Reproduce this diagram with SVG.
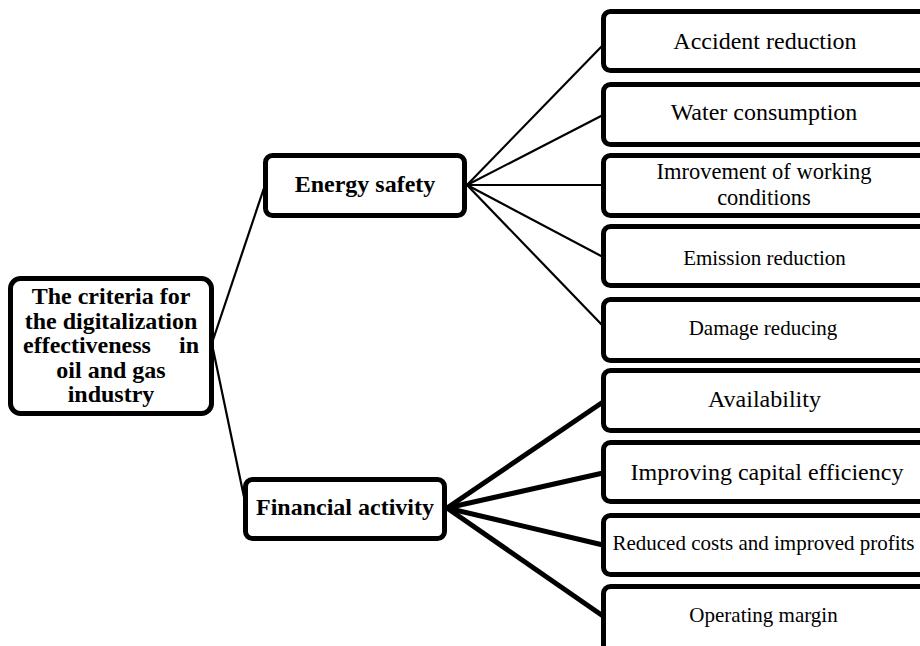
<svg xmlns="http://www.w3.org/2000/svg" width="920" height="646" viewBox="0 0 920 646">
<style>
.box{fill:#fff;stroke:#000;stroke-width:5}
.bt{font-family:"Liberation Serif","Times New Roman",serif;font-weight:bold;font-size:24px;fill:#000;text-anchor:middle}
.t{font-family:"Liberation Serif","Times New Roman",serif;font-size:24px;fill:#000;text-anchor:middle}
.s{font-size:21px}
.m{font-size:22.5px}
.thin{stroke:#000;stroke-width:2.2;fill:none}
.thick{stroke:#000;stroke-width:5;fill:none}
</style>
<rect width="920" height="646" fill="#fff"/>
<g id="connectors">
<line class="thin" x1="213" y1="340" x2="264" y2="188"/>
<line class="thin" x1="213" y1="349" x2="244" y2="497"/>
<line class="thin" x1="467" y1="185" x2="603" y2="45"/>
<line class="thin" x1="467" y1="185" x2="603" y2="115"/>
<line class="thin" x1="467" y1="185" x2="603" y2="185"/>
<line class="thin" x1="467" y1="185" x2="603" y2="257"/>
<line class="thin" x1="467" y1="185" x2="603" y2="326"/>
<line class="thick" x1="447" y1="508" x2="603" y2="402"/>
<line class="thick" x1="447" y1="508" x2="603" y2="473"/>
<line class="thick" x1="447" y1="508" x2="603" y2="545"/>
<line class="thick" x1="447" y1="508" x2="603" y2="616"/>
</g>
<g id="root">
<rect class="box" x="10.5" y="278.5" width="201" height="135" rx="10"/>
<text class="bt" x="111" y="304">The criteria for</text>
<text class="bt" x="111" y="328.5">the digitalization</text>
<text class="bt" y="353"><tspan x="23" text-anchor="start">effectiveness</tspan><tspan x="199" text-anchor="end">in</tspan></text>
<text class="bt" x="111" y="377.5">oil and gas</text>
<text class="bt" x="111" y="402">industry</text>
</g>
<g id="energy">
<rect class="box" x="265.5" y="155.5" width="199" height="60" rx="7"/>
<text class="bt" x="365" y="192">Energy safety</text>
</g>
<g id="financial">
<rect class="box" x="245.5" y="479.5" width="199" height="59" rx="7"/>
<text class="bt" x="345" y="515">Financial activity</text>
</g>
<g id="accident">
<rect class="box" x="603.5" y="11.5" width="340" height="59" rx="7"/>
<text class="t" x="765" y="49">Accident reduction</text>
</g>
<g id="water">
<rect class="box" x="603.5" y="84.5" width="340" height="60" rx="7"/>
<text class="t" x="764" y="120">Water consumption</text>
</g>
<g id="working">
<rect class="box" x="603.5" y="155.5" width="340" height="60" rx="7"/>
<text class="t m"><tspan x="764" y="179">Imrovement of working</tspan><tspan x="764" y="204.5">conditions</tspan></text>
</g>
<g id="emission">
<rect class="box" x="603.5" y="226.5" width="340" height="59" rx="7"/>
<text class="t s" x="764.5" y="265">Emission reduction</text>
</g>
<g id="damage">
<rect class="box" x="603.5" y="299.5" width="340" height="61" rx="7"/>
<text class="t s" x="763" y="335">Damage reducing</text>
</g>
<g id="availability">
<rect class="box" x="603.5" y="370.5" width="340" height="60" rx="7"/>
<text class="t" x="764.5" y="407">Availability</text>
</g>
<g id="capital">
<rect class="box" x="603.5" y="442.5" width="340" height="59" rx="7"/>
<text class="t" x="767" y="480">Improving capital efficiency</text>
</g>
<g id="costs">
<rect class="box" x="603.5" y="515.5" width="340" height="59" rx="7"/>
<text class="t s" x="763.5" y="550">Reduced costs and improved profits</text>
</g>
<g id="margin">
<rect class="box" x="603.5" y="586.5" width="340" height="80" rx="7"/>
<text class="t s" x="763.5" y="622">Operating margin</text>
</g>
</svg>
